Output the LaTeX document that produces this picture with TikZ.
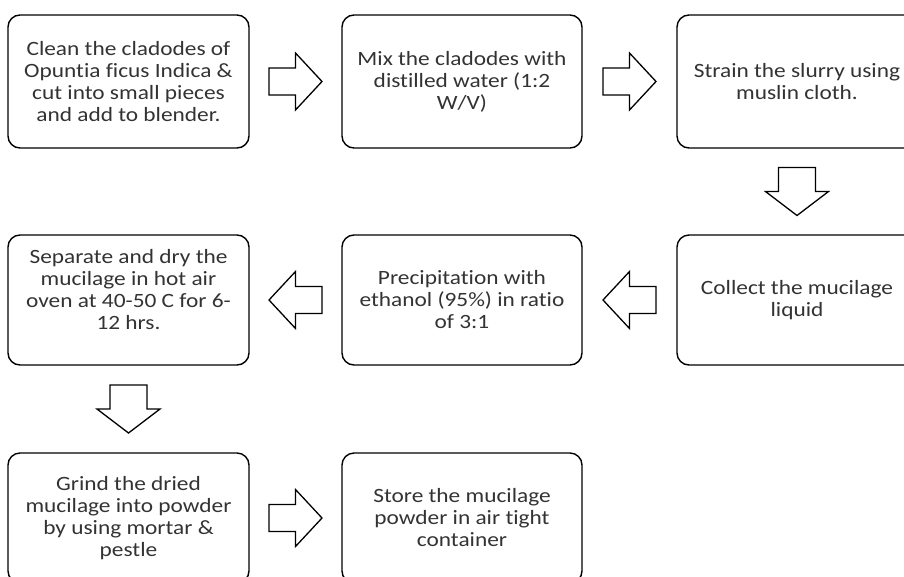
\documentclass[tikz,border=0pt]{standalone}
\usepackage{fontspec}
\setmainfont{Carlito}[FakeStretch=1.15, Ligatures=NoCommon]
\usetikzlibrary{calc, positioning}
\definecolor{txtgray}{gray}{0.2}

\begin{document}
\begin{tikzpicture}[x=1pt, y=-1pt,
  stepbox/.style={draw=black, line width=1.4pt, rounded corners=12pt, fill=white, text=txtgray, align=center, minimum width=241pt, minimum height=133pt, inner sep=0pt, font=\fontsize{20.3}{22}\selectfont},
  hollow/.style={draw=black, line width=1.3pt, fill=white, line join=miter},
  rarr/.pic={\path[hollow] (-26.5,-13.5) -- (0,-13.5) -- (0,-28.5) -- (26.5,0) -- (0,28.5) -- (0,13.5) -- (-26.5,13.5) -- cycle;},
  darr/.pic={\path[hollow] (-18.5,-24) -- (18.5,-24) -- (18.5,0) -- (31.5,0) -- (0,24) -- (-31.5,0) -- (-18.5,0) -- cycle;}
]
\useasboundingbox (0,0) rectangle (904,576);
\clip (0,0) rectangle (904,576);
% row 1
\node[stepbox] (clean) at (128.5,81.5) {Clean the cladodes of\\Opuntia ficus Indica \&\\cut into small pieces\\and add to blender.};
\node[stepbox, minimum width=240pt] (mix) at (462,81.5) {Mix the cladodes with\\distilled water (1:2\\W/V)};
\node[stepbox, minimum width=240pt] (strain) at (797,81.5) {Strain the slurry using\\muslin cloth.};
% row 2
\node[stepbox, minimum width=240pt, minimum height=130pt] (collect) at (797,300) {Collect the mucilage\\liquid};
\node[stepbox, minimum width=240pt, minimum height=130pt] (precip) at (462,300) {Precipitation with\\ethanol (95\%) in ratio\\of 3:1};
\node[stepbox, minimum height=130pt, text depth=22pt] (dry) at (128.5,300) {Separate and dry the\\mucilage in hot air\\oven at 40-50 C for 6-\\12 hrs.};
% row 3
\node[stepbox, minimum height=130pt] (grind) at (128.5,518) {Grind the dried\\mucilage into powder\\by using mortar \&\\pestle};
\node[stepbox, minimum width=240pt, minimum height=130pt] (store) at (462,518) {Store the mucilage\\powder in air tight\\container};
% block arrows
\pic at ($(clean.east)!0.5!(mix.west)$) {rarr};
\pic at ($(mix.east)!0.5!(strain.west)$) {rarr};
\pic at ($(strain.south)!0.5!(collect.north)$) {darr};
\pic[rotate=180] at ($(collect.west)!0.5!(precip.east)$) {rarr};
\pic[rotate=180] at ($(precip.west)!0.5!(dry.east)$) {rarr};
\pic at ($(dry.south)!0.5!(grind.north)$) {darr};
\pic at ($(grind.east)!0.5!(store.west)$) {rarr};
\end{tikzpicture}
\end{document}
